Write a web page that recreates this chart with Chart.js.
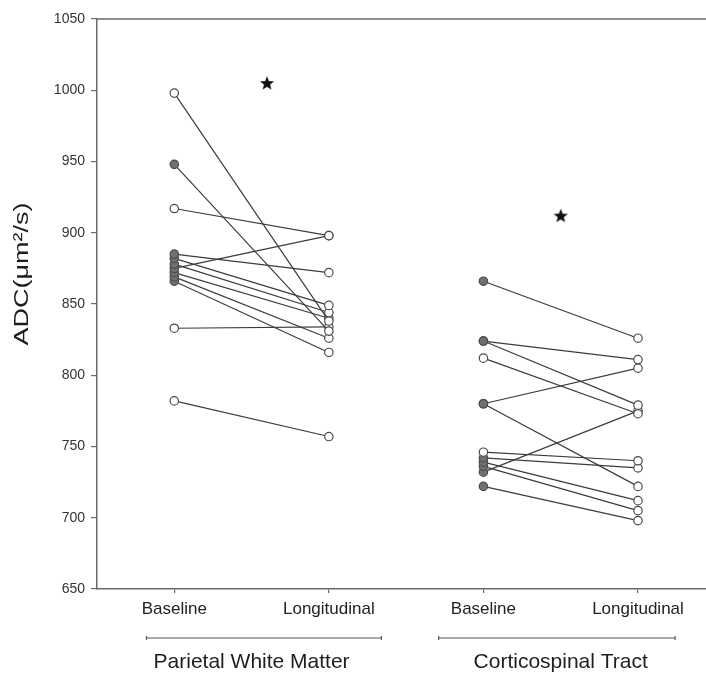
<!DOCTYPE html>
<html>
<head>
<meta charset="utf-8">
<script src="https://cdn.jsdelivr.net/npm/chart.js@4"></script>
<style>
  html, body { margin: 0; padding: 0; background: #fff; }
</style>
</head>
<body>
<canvas id="chart" width="706" height="680"></canvas>
<script>
// tick labels along the bottom, one per column, and the two region names
const timepoints = ["Baseline", "Longitudinal", "Baseline", "Longitudinal"];
const regions = ["Parietal White Matter", "Corticospinal Tract"];
const yTitle = "ADC(\u03bcm\u00b2/s)";

// Parietal white matter, one entry per subject
const pwmBaseline     = [998, 948, 917, 885, 882, 878, 875, 872, 869, 866, 833, 782];
const pwmLongitudinal = [838, 831, 898, 872, 849, 844, 898, 840, 826, 816, 834, 757];
const pwmFilled       = [0, 1, 0, 1, 1, 1, 1, 1, 1, 1, 0, 0];

// Corticospinal tract, one entry per subject
const cstBaseline     = [866, 824, 824, 812, 780, 780, 746, 742, 739, 736, 732, 722];
const cstLongitudinal = [826, 811, 779, 773, 805, 722, 740, 735, 712, 705, 775, 698];
const cstFilled       = [1, 1, 1, 0, 1, 1, 0, 1, 1, 1, 1, 1];

// significance stars (column position, value)
const starX = [1.6, 3.5];
const starY = [1005, 912];

// bracket under each region, in column units
const bracketFrom = [0.82, 2.71];
const bracketTo   = [2.34, 4.24];

const FONT = "'Liberation Sans', Arial, sans-serif";

function makeStar() {
  const c = document.createElement('canvas');
  c.width = 16; c.height = 16;
  const g = c.getContext('2d');
  g.fillStyle = '#111';
  g.beginPath();
  for (let i = 0; i < 10; i++) {
    const r = i % 2 === 0 ? 7.5 : 3.2;
    const a = -Math.PI / 2 + i * Math.PI / 5;
    const px = 8 + r * Math.cos(a), py = 8.5 + r * Math.sin(a);
    if (i === 0) g.moveTo(px, py); else g.lineTo(px, py);
  }
  g.closePath();
  g.fill();
  return c;
}

const datasets = [];
function addPairs(base, follow, filled, col) {
  base.forEach((b, i) => {
    datasets.push({
      data: [{x: col, y: b}, {x: col + 1, y: follow[i]}],
      showLine: true,
      borderColor: '#3c3c3c',
      borderWidth: 1.2,
      pointRadius: 4.2,
      pointBorderWidth: 1.2,
      pointBorderColor: '#4a4a4a',
      pointBackgroundColor: [filled[i] ? '#707070' : '#ffffff', '#ffffff']
    });
  });
}
addPairs(pwmBaseline, pwmLongitudinal, pwmFilled, 1);
addPairs(cstBaseline, cstLongitudinal, cstFilled, 3);

datasets.push({
  data: starX.map((x, i) => ({x: x, y: starY[i]})),
  pointStyle: makeStar(),
  pointRadius: 8,
  showLine: false
});

const regionPlugin = {
  id: 'regions',
  afterDraw(chart) {
    const {ctx, chartArea, scales: {x}} = chart;
    ctx.save();
    // top frame line
    ctx.strokeStyle = '#6a6a6a';
    ctx.lineWidth = 1.5;
    ctx.beginPath();
    ctx.moveTo(chartArea.left, chartArea.top);
    ctx.lineTo(chartArea.right, chartArea.top);
    ctx.stroke();

    // brackets and region names
    const by = chartArea.bottom + 49;
    ctx.lineWidth = 1.2;
    ctx.strokeStyle = '#555';
    ctx.fillStyle = '#1e1e1e';
    ctx.font = '21px ' + FONT;
    ctx.textAlign = 'center';
    ctx.textBaseline = 'middle';
    regions.forEach((name, i) => {
      const x0 = x.getPixelForValue(bracketFrom[i]);
      const x1 = x.getPixelForValue(bracketTo[i]);
      ctx.beginPath();
      ctx.moveTo(x0, by); ctx.lineTo(x1, by);
      ctx.moveTo(x0, by - 2); ctx.lineTo(x0, by + 2);
      ctx.moveTo(x1, by - 2); ctx.lineTo(x1, by + 2);
      ctx.stroke();
      ctx.fillText(name, x.getPixelForValue(2 * i + 1.5), chartArea.bottom + 73);
    });

    // y axis title, drawn wide like the original
    ctx.translate(22, chartArea.top + 255);
    ctx.rotate(-Math.PI / 2);
    ctx.scale(1.35, 1);
    ctx.font = '20px ' + FONT;
    ctx.fillText(yTitle, 0, 0);
    ctx.restore();
  }
};

new Chart(document.getElementById('chart'), {
  type: 'scatter',
  data: { datasets: datasets },
  options: {
    responsive: false,
    animation: false,
    layout: { autoPadding: false, padding: { top: 19, right: 0, bottom: 0, left: 0 } },
    plugins: { legend: { display: false }, tooltip: { enabled: false } },
    scales: {
      x: {
        type: 'linear',
        min: 0.5,
        max: 4.44,
        afterBuildTicks: s => { s.ticks = timepoints.map((t, i) => ({value: i + 1})); },
        afterFit: s => { s.height = 91; s.paddingLeft = 0; s.paddingRight = 0; },
        ticks: {
          callback: v => timepoints[v - 1],
          autoSkip: false,
          maxRotation: 0,
          padding: 6,
          color: '#222',
          font: { family: FONT, size: 17 }
        },
        grid: { drawOnChartArea: false, drawTicks: true, tickLength: 4, color: '#6a6a6a', lineWidth: 1.2 },
        border: { display: true, color: '#6a6a6a', width: 1.5 }
      },
      y: {
        min: 650,
        max: 1050,
        afterFit: s => { s.width = 97; s.paddingTop = 0; s.paddingBottom = 0; },
        ticks: {
          stepSize: 50,
          padding: 6,
          color: '#333',
          font: { family: FONT, size: 14 },
          callback: v => String(v)
        },
        grid: { drawOnChartArea: false, drawTicks: true, tickLength: 6, color: '#6a6a6a', lineWidth: 1.2 },
        border: { display: true, color: '#6a6a6a', width: 1.5 }
      }
    }
  },
  plugins: [regionPlugin]
});
</script>
</body>
</html>
